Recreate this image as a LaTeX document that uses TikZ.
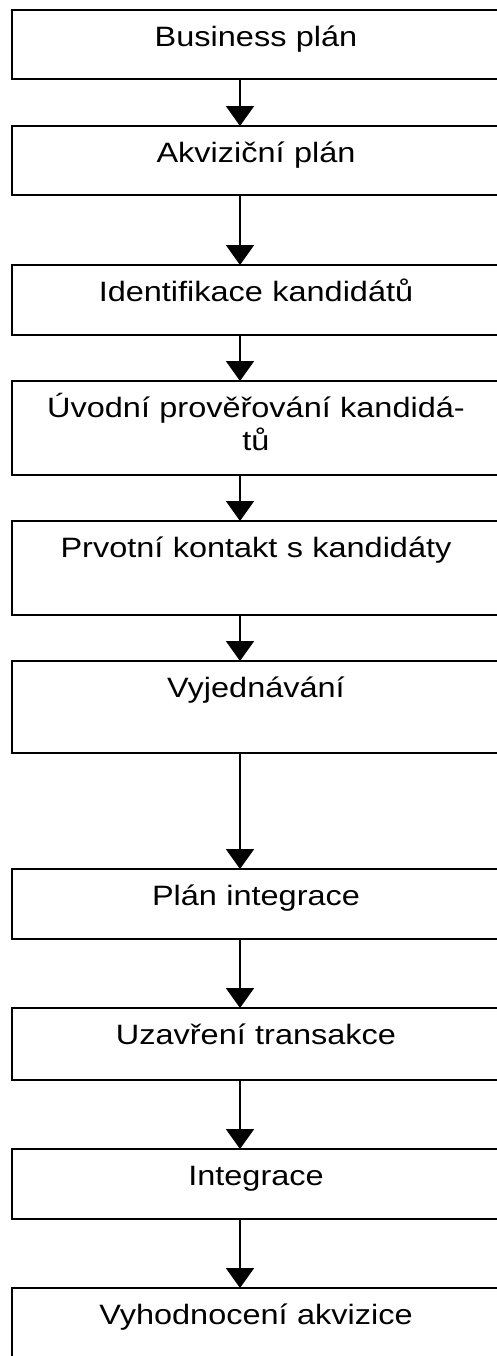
\documentclass[tikz,border=0pt]{standalone}
\usepackage{fontspec}
\setmainfont[FakeStretch=1.16]{Liberation Sans}
\usetikzlibrary{arrows.meta,positioning}

\begin{document}
\begin{tikzpicture}[node distance=23pt, auto]
\tikzstyle{stepbox}=[rectangle,
                     draw=black,
                     line width=1.25pt,
                     inner sep=0pt,
                     outer sep=0pt,
                     text width=244pt,
                     align=center,
                     text height=18pt,
                     font=\fontsize{14pt}{16.5pt}\selectfont]
\tikzstyle{flow}=[line width=1pt,
                  -{Triangle[length=10pt,width=14pt]}]

\useasboundingbox (0,0) rectangle (248.5pt,-678pt);
\clip (0,0) rectangle (248.5pt,-678pt);

\coordinate (col) at (120pt,0);

\node[stepbox, text depth=16.5pt, anchor=north west] at (6pt,-5pt) (business) {Business plán};
\node[stepbox, text depth=16.5pt, below=23.5pt of business] (akvizice) {Akviziční plán};
\node[stepbox, text depth=17pt, below=35pt of akvizice] (identifikace) {Identifikace kandidátů};
\node[stepbox, text depth=29pt, below=of identifikace] (proverovani)
  {Úvodní prověřování kandidá-\\tů};
\node[stepbox, text depth=29pt, below=of proverovani] (kontakt) {Prvotní kontakt s kandidáty};
\node[stepbox, text depth=28pt, below=of kontakt] (vyjednavani) {Vyjednávání};
\node[stepbox, text depth=17pt, below=58pt of vyjednavani] (planint) {Plán integrace};
\node[stepbox, text depth=18pt, below=34.5pt of planint] (uzavreni) {Uzavření transakce};
\node[stepbox, text depth=17pt, below=34.5pt of uzavreni] (integrace) {Integrace};
\node[stepbox, text depth=17pt, below=34.5pt of integrace] (vyhodnoceni) {Vyhodnocení akvizice};

\foreach \from/\to in {business/akvizice, akvizice/identifikace,
                       identifikace/proverovani, proverovani/kontakt,
                       kontakt/vyjednavani, vyjednavani/planint,
                       planint/uzavreni, uzavreni/integrace,
                       integrace/vyhodnoceni}
  \draw[flow] (\from.south -| col) -- (\to.north -| col);
\end{tikzpicture}
\end{document}
